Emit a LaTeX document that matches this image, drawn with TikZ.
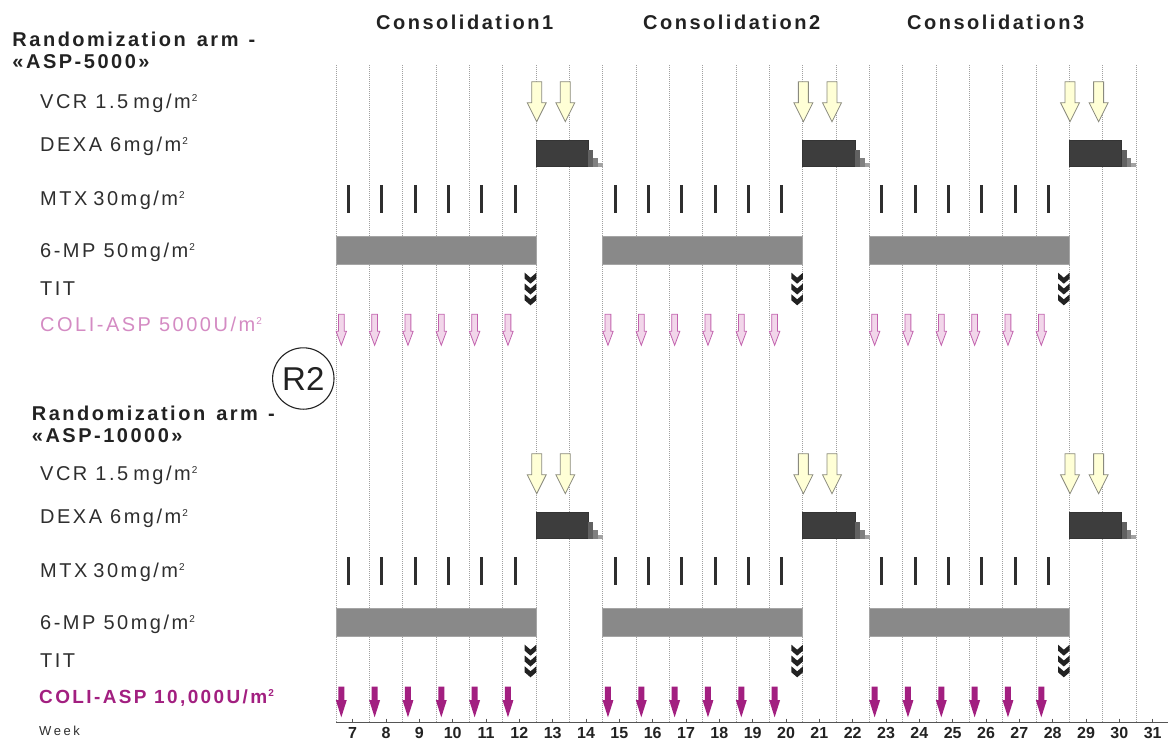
\documentclass[tikz,border=0pt]{standalone}
\usepackage{fontspec}
\setmainfont{Liberation Sans}
\newfontfamily\spaced[LetterSpace=12.5]{Liberation Sans}
\newfontfamily\widespaced[LetterSpace=20]{Liberation Sans}

\definecolor{labelgray}{HTML}{2E2E2E}
\definecolor{titlegray}{HTML}{222222}
\definecolor{gridgray}{HTML}{A0A0A0}
\definecolor{axisgray}{HTML}{555555}
\definecolor{vcrfill}{HTML}{FFFFD6}
\definecolor{vcrline}{HTML}{8A8A7E}
\definecolor{dexadark}{HTML}{3D3D3D}
\definecolor{mpfill}{HTML}{898989}
\definecolor{mpline}{HTML}{A5A5A5}
\definecolor{pinktext}{HTML}{D48BC3}
\definecolor{pinkfill}{HTML}{F2D6EA}
\definecolor{pinkline}{HTML}{C263AE}
\definecolor{purple}{HTML}{A21F80}

% small raised "2" for m^2
\newcommand\sqm{\kern1pt\raisebox{7pt}{\fontsize{10}{10}\selectfont 2}}

\tikzset{
  lbl/.style={inner sep=0pt, anchor=base west, text=labelgray,
    font=\fontsize{20}{20}\selectfont\spaced},
  ttl/.style={inner sep=0pt, anchor=base west, text=titlegray,
    font=\fontsize{20}{20}\selectfont\spaced\bfseries},
  wk/.style={inner sep=0pt, anchor=base, text=titlegray,
    font=\fontsize{16}{16}\selectfont\bfseries},
  grid/.style={draw=gridgray, line width=0.8pt, dash pattern=on 1pt off 1pt},
  axisline/.style={draw=axisgray, line width=1pt},
  mpbar/.style={fill=mpfill, draw=mpline, line width=1pt},
  mtxtick/.style={fill=labelgray},
  vcrarrow/.pic={
    \filldraw[fill=vcrfill, draw=vcrline, line width=0.8pt]
      (-5,0) -- (5,0) -- (5,21) -- (9.5,21) -- (0,40) -- (-9.5,21) -- (-5,21) -- cycle;
  },
  pinkarrow/.pic={
    \filldraw[fill=pinkfill, draw=pinkline, line width=0.8pt]
      (-2.9,0) -- (2.9,0) -- (2.9,17) -- (5.2,17) -- (0,31) -- (-5.2,17) -- (-2.9,17) -- cycle;
  },
  purplearrow/.pic={
    \fill[purple]
      (-3,0) -- (3,0) -- (3,13.3) -- (5.5,13.3) -- (0,30.6) -- (-5.5,13.3) -- (-3,13.3) -- cycle;
  },
  titmark/.pic={
    \foreach \c in {0,10.8,21.6}
      \fill[titlegray] (-5.8,\c) -- (0,5+\c) -- (5.8,\c) -- (5.8,6+\c)
        -- (0,11+\c) -- (-5.8,6+\c) -- cycle;
  },
  dexablock/.pic={
    \filldraw[fill=dexadark, draw=dexadark!85!black, line width=0.6pt] (0,0) rectangle (52.3,26);
    \fill[black!62] (52.3,9.3) rectangle (57.3,26);
    \fill[black!50] (57.3,17.3) rectangle (62,26);
    \fill[black!36] (62,22) rectangle (67,26);
  },
}

\begin{document}
\begin{tikzpicture}[x=1pt, y=-1pt]
\useasboundingbox (0,0) rectangle (1168,741);

% week grid
\foreach \k in {0,...,24}
  \draw[grid] (336+\k*33.333,65) -- (336+\k*33.333,722);

% time axis with mid-week ticks
\coordinate (axL) at (336,722);
\coordinate (axR) at (1168,722);
\draw[axisline] (axL) -- (axR);
\foreach \k in {0,...,24}
  \draw[axisline] (352.67+\k*33.333,718.5) -- (352.67+\k*33.333,722);

% week numbers
\foreach \w [count=\i from 0] in {7,...,31}
  \node[wk] (week\w) at (352.67+\i*33.333,738.6) {\w};
\node[inner sep=0pt, anchor=base west, text=labelgray,
  font=\fontsize{13}{13}\selectfont\widespaced] (weeklbl) at (39,735) {Week};

% consolidation headings
\node[ttl] (cons1) at (376,29.3) {Consolidation1};
\node[ttl] (cons2) at (643,29.3) {Consolidation2};
\node[ttl] (cons3) at (907,29.3) {Consolidation3};

% arm headings
\node[ttl] (armA) at (12.3,46.7) {Randomization\hspace{3pt} arm\hspace{2pt} -};
\node[ttl] (armAname) at (12.3,68.3) {«ASP-5000»};
\node[ttl] (armB) at (31.7,420) {Randomization\hspace{3pt} arm\hspace{2pt} -};
\node[ttl] (armBname) at (31.7,442) {«ASP-10000»};

% randomisation mark
\node[draw=titlegray, circle, line width=1.1pt, minimum size=61.4pt, inner sep=0pt,
  text=titlegray, font=\fontsize{33}{33}\selectfont] (rtwo) at (303.3,378.5) {R2};

% drug labels of both arms
\foreach \a/\dy in {A/0, B/372} {
  \node[lbl] (vcr\a) at (40,108.3+\dy) {VCR 1.5\hspace{5pt}mg/m\sqm};
  \node[lbl] (dexa\a) at (40,151.7+\dy) {DEXA 6mg/m\sqm};
  \node[lbl] (mtx\a) at (40,205+\dy) {MTX\hspace{6pt}30mg/m\sqm};
  \node[lbl] (mp\a) at (40,257.3+\dy) {6-MP 50mg/m\sqm};
  \node[lbl] (tit\a) at (40,295.7+\dy) {TIT};
}
\node[lbl, text=pinktext] (coliA) at (40,331.7) {COLI-ASP 5000U/m\sqm};
\node[lbl, text=purple, font=\fontsize{19}{19}\selectfont\spaced\bfseries]
  (coliB) at (39,703.3) {COLI-ASP 10,000U/m\sqm};

% treatment schedule, three consolidation blocks per arm
\foreach \dy in {0,372} {
  \foreach \g in {0,1,2} {
    \pgfmathsetmacro\gx{\g*266.667}
    % 6-MP
    \filldraw[mpbar] (336+\gx,236.7+\dy) rectangle (536+\gx,264+\dy);
    % MTX
    \foreach \k in {0,...,5}
      \fill[mtxtick] (347+\gx+\k*33.333,185+\dy) rectangle ++(3,28.3);
    % VCR
    \pic at (536.7+\gx,81.7+\dy) {vcrarrow};
    \pic at (565.3+\gx,81.7+\dy) {vcrarrow};
    % DEXA
    \pic at (536+\gx,140.7+\dy) {dexablock};
    % TIT
    \pic at (530.5+\gx,272.7+\dy) {titmark};
  }
}

% COLI-ASP doses
\foreach \g in {0,1,2} {
  \pgfmathsetmacro\gx{\g*266.667}
  \foreach \k in {0,...,5} {
    \pic at (341.3+\gx+\k*33.333,314.3) {pinkarrow};
    \pic at (341.3+\gx+\k*33.333,686.7) {purplearrow};
  }
}
\end{tikzpicture}
\end{document}
